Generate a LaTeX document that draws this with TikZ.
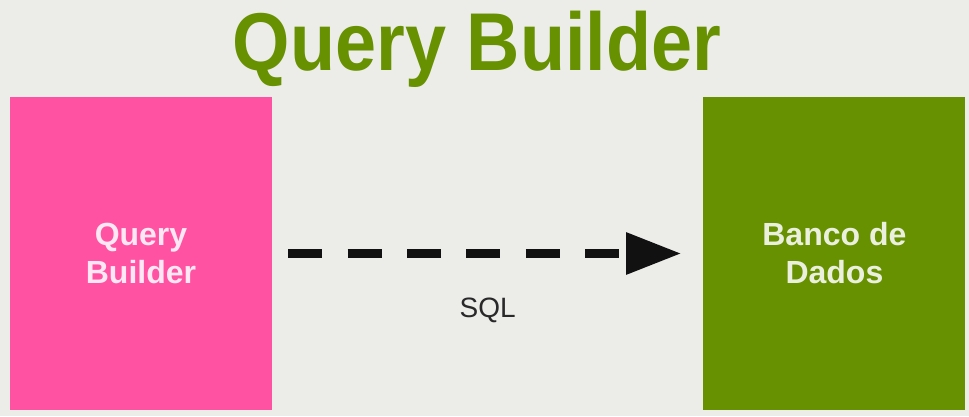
\documentclass[tikz,border=0pt]{standalone}
\usepackage{fontspec}
\setmainfont{Liberation Sans}
\usetikzlibrary{positioning,arrows.meta}
\definecolor{bgray}{HTML}{ECEDE8}
\definecolor{qpink}{HTML}{FF52A3}
\definecolor{qgreen}{HTML}{679100}
\definecolor{qblack}{HTML}{111111}

\begin{document}
\begin{tikzpicture}[
			x=1pt,y=1pt,
			box/.style={
				fill=#1,
				minimum width=262pt,
				minimum height=313pt,
				inner sep=0pt,
				align=center,
				text=white,
				text opacity=0.87,
				font=\bfseries\fontsize{32}{38}\selectfont
			},
			sqlarrow/.style={
				draw=qblack,
				line width=9pt,
				dash pattern=on 34pt off 25.4pt,
				-{Triangle[length=55pt,width=40pt]},
				shorten <=16pt,
				shorten >=22pt
			},
			node distance=431pt
			]
			\fill[bgray] (0,0) rectangle (969,416);
			\useasboundingbox (0,0) rectangle (969,416);

			\node[anchor=base,text=qgreen,font=\bfseries\fontsize{82}{82}\selectfont] 
			  (title) at (477,345) {\scalebox{0.9}[1]{Query Builder}};
			\node[box=qpink] at (141,162.5) 
			  (qb) {Query\\Builder};
			\node[box=qgreen,right=of qb] 
			  (db) {Banco de\\Dados};

			\draw[sqlarrow] (qb) -- node[midway,yshift=-57pt,text=qblack!90,font=\fontsize{28}{28}\selectfont] (sql) {SQL} (db);
		\end{tikzpicture}
\end{document}
